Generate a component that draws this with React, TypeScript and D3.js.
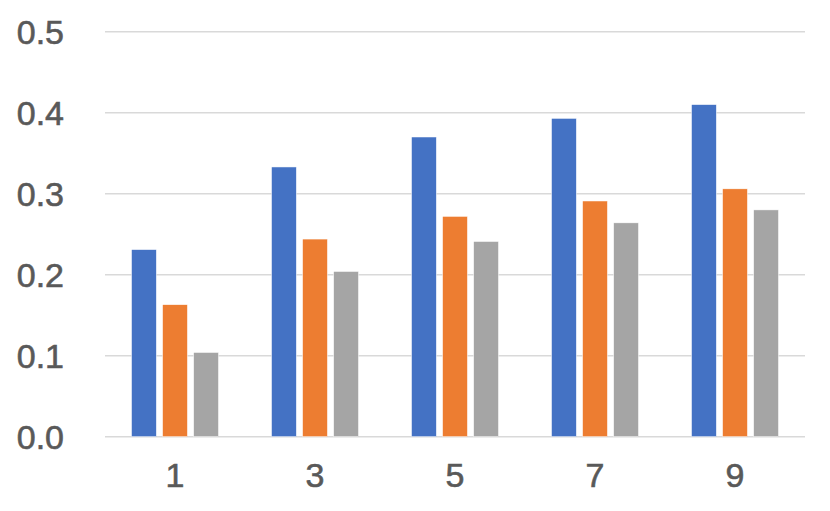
import React from "react";
import * as d3 from "d3";

const categories = ["1", "3", "5", "7", "9"];
const seriesNames = ["A", "B", "C"];
const seriesA = [0.231, 0.333, 0.37, 0.393, 0.41];
const seriesB = [0.163, 0.244, 0.272, 0.291, 0.306];
const seriesC = [0.104, 0.204, 0.241, 0.264, 0.28];
const yTicks = [0, 0.1, 0.2, 0.3, 0.4, 0.5];
const colors = ["#4472C4", "#ED7D31", "#A5A5A5"];

const width = 830;
const height = 511;
const margin = { top: 31.7, right: 25, bottom: 74.3, left: 105 };

export default function App() {
  const allSeries = [seriesA, seriesB, seriesC];

  const x0 = d3
    .scaleBand<string>()
    .domain(categories)
    .range([margin.left, width - margin.right])
    .padding(0);

  // bars inside each category group
  const x1 = d3
    .scaleBand<string>()
    .domain(seriesNames)
    .range([0, x0.bandwidth()])
    .paddingInner(0.2)
    .paddingOuter(0.853);

  const y = d3
    .scaleLinear()
    .domain([0, 0.5])
    .range([height - margin.bottom, margin.top]);

  const labelStyle = {
    fontSize: 34,
    fill: "#595959",
    stroke: "#595959",
    strokeWidth: 0.6,
  };

  return (
    <svg
      width={width}
      height={height}
      style={{ position: "absolute", left: 0, top: 0, background: "#fff" }}
      fontFamily="'Liberation Sans', Arial, sans-serif"
    >
      {yTicks.map((t) => (
        <g key={t}>
          <line
            x1={margin.left}
            x2={width - margin.right}
            y1={y(t)}
            y2={y(t)}
            stroke="#d9d9d9"
            strokeWidth={1.5}
          />
          <text x={64} y={y(t)} dy="0.36em" textAnchor="end" {...labelStyle}>
            {d3.format(".1f")(t)}
          </text>
        </g>
      ))}
      {categories.map((c, i) => (
        <g key={c} transform={`translate(${x0(c)},0)`}>
          {allSeries.map((s, j) => (
            <rect
              key={j}
              x={x1(seriesNames[j])}
              y={y(s[i])}
              width={x1.bandwidth()}
              height={y(0) - y(s[i])}
              fill={colors[j]}
              stroke="#fff"
              strokeWidth={0.5}
            />
          ))}
          <text
            x={x0.bandwidth() / 2}
            y={487}
            textAnchor="middle"
            {...labelStyle}
          >
            {c}
          </text>
        </g>
      ))}
    </svg>
  );
}
